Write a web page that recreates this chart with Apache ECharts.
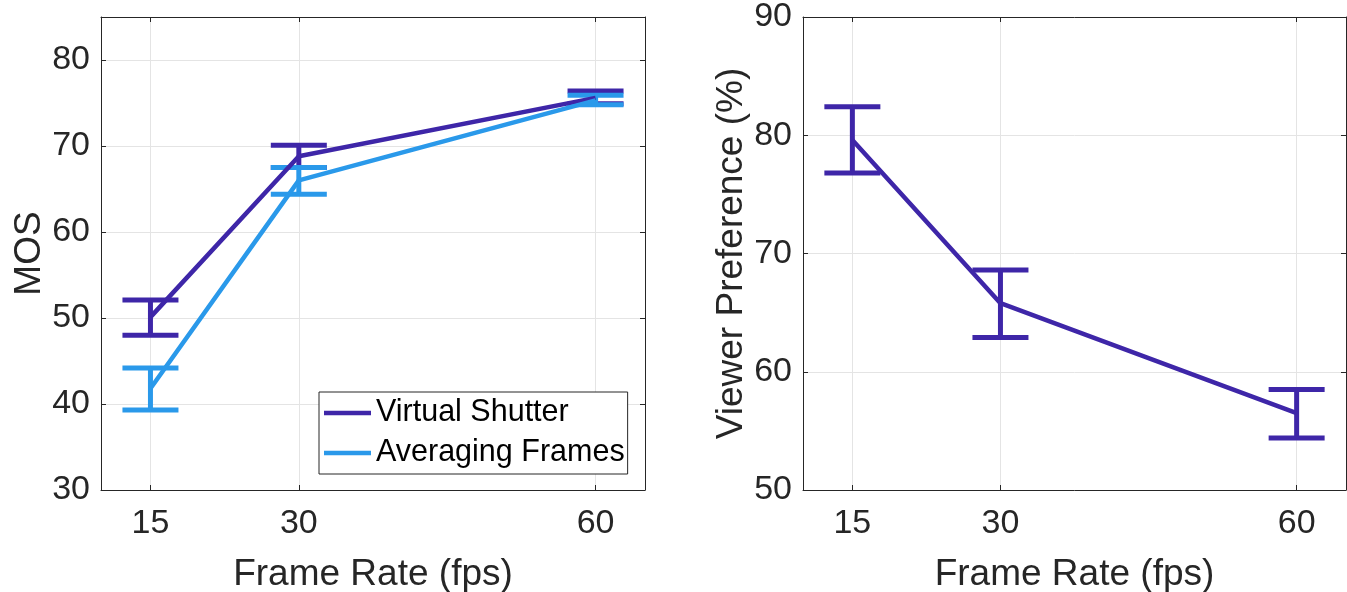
<!DOCTYPE html>
<html>
<head>
<meta charset="utf-8">
<script src="https://cdn.jsdelivr.net/npm/echarts@6/dist/echarts.min.js"></script>
<style>
html,body{margin:0;padding:0;background:#fff;}
#chart{width:1347px;height:592px;}
</style>
</head>
<body>
<div id="chart"></div>
<script>
// ---- data ----
const frameRates = [15, 30, 60];
const xTicks = [15, 30, 60];
const mosTicks = [30, 40, 50, 60, 70, 80];
const prefTicks = [50, 60, 70, 80, 90];

const seriesNames = ['Virtual Shutter', 'Averaging Frames'];
const vsMean = [50.1, 68.8, 75.6];
const vsLow  = [48.0, 67.5, 74.9];
const vsHigh = [52.1, 70.1, 76.4];
const afMean = [41.8, 66.0, 75.3];
const afLow  = [39.3, 64.4, 74.8];
const afHigh = [44.2, 67.5, 75.9];

const prefMean = [79.6, 65.8, 56.5];
const prefLow  = [76.8, 62.9, 54.4];
const prefHigh = [82.4, 68.6, 58.5];

// ---- style ----
const FONT = "'Liberation Sans', Arial, Helvetica, sans-serif";
const AXIS_COLOR = '#262626';
const GRID_COLOR = '#e4e4e4';
const C_VS = '#3e26a8';
const C_AF = '#2a99ea';

function pairs(xs, ys) { return xs.map((x, i) => [x, ys[i]]); }
function errData(xs, lo, hi) { return xs.map((x, i) => [x, lo[i], hi[i]]); }

function errorSeries(name, color, xi, yi, data) {
  return {
    type: 'custom', name: name, xAxisIndex: xi, yAxisIndex: yi,
    data: data, z: 3,
    itemStyle: { color: color },
    renderItem: function (params, api) {
      const x = api.value(0);
      const lo = api.coord([x, api.value(1)]);
      const hi = api.coord([x, api.value(2)]);
      const hw = 28;
      const st = { stroke: color, lineWidth: 5 };
      return {
        type: 'group',
        children: [
          { type: 'line', shape: { x1: lo[0], y1: lo[1], x2: hi[0], y2: hi[1] }, style: st },
          { type: 'line', shape: { x1: hi[0] - hw, y1: hi[1], x2: hi[0] + hw, y2: hi[1] }, style: st },
          { type: 'line', shape: { x1: lo[0] - hw, y1: lo[1], x2: lo[0] + hw, y2: lo[1] }, style: st }
        ]
      };
    },
    silent: true
  };
}
function lineSeries(name, color, xi, yi, data) {
  return {
    type: 'line', name: name, xAxisIndex: xi, yAxisIndex: yi, data: data,
    symbol: 'none', z: 4,
    lineStyle: { color: color, width: 4.5 }, itemStyle: { color: color },
    animation: false
  };
}

function xAxisBottom(gi) {
  return {
    type: 'value', gridIndex: gi, min: 10, max: 65, position: 'bottom',
    name: 'Frame Rate (fps)', nameLocation: 'middle', nameGap: 66,
    nameTextStyle: { fontFamily: FONT, fontSize: 37, color: AXIS_COLOR },
    axisLine: { show: true, onZero: false, lineStyle: { color: AXIS_COLOR, width: 1 } },
    axisTick: { show: true, inside: true, length: 5, customValues: xTicks, lineStyle: { color: AXIS_COLOR } },
    axisLabel: { show: true, customValues: xTicks, margin: 17, fontFamily: FONT, fontSize: 34, color: AXIS_COLOR },
    splitLine: { show: true, lineStyle: { color: GRID_COLOR, width: 1 } }
  };
}
function xAxisTop(gi) {
  return {
    type: 'value', gridIndex: gi, min: 10, max: 65, position: 'top',
    axisLine: { show: true, onZero: false, lineStyle: { color: AXIS_COLOR, width: 1 } },
    axisTick: { show: true, inside: true, length: 5, customValues: xTicks, lineStyle: { color: AXIS_COLOR } },
    axisLabel: { show: false },
    splitLine: { show: false }
  };
}
function yAxisLeft(gi, min, max, ticks, name, gap) {
  return {
    type: 'value', gridIndex: gi, min: min, max: max, interval: 10, position: 'left',
    name: name, nameLocation: 'middle', nameGap: gap,
    nameTextStyle: { fontFamily: FONT, fontSize: 37, color: AXIS_COLOR },
    axisLine: { show: true, onZero: false, lineStyle: { color: AXIS_COLOR, width: 1 } },
    axisTick: { show: true, inside: true, length: 5, customValues: ticks, lineStyle: { color: AXIS_COLOR } },
    axisLabel: { show: true, customValues: ticks, margin: 11, fontFamily: FONT, fontSize: 34, color: AXIS_COLOR },
    splitLine: { show: true, lineStyle: { color: GRID_COLOR, width: 1 } }
  };
}
function yAxisRight(gi, min, max, ticks) {
  return {
    type: 'value', gridIndex: gi, min: min, max: max, interval: 10, position: 'right',
    axisLine: { show: true, onZero: false, lineStyle: { color: AXIS_COLOR, width: 1 } },
    axisTick: { show: true, inside: true, length: 5, customValues: ticks, lineStyle: { color: AXIS_COLOR } },
    axisLabel: { show: false },
    splitLine: { show: false }
  };
}

const chart = echarts.init(document.getElementById('chart'), null, { renderer: 'canvas' });
chart.setOption({
  animation: false,
  backgroundColor: '#ffffff',
  textStyle: { fontFamily: FONT },
  grid: [
    { left: 101, top: 17, width: 544, height: 473, containLabel: false, outerBoundsMode: 'none' },
    { left: 803, top: 17, width: 543, height: 473, containLabel: false, outerBoundsMode: 'none' }
  ],
  xAxis: [xAxisBottom(0), xAxisBottom(1), xAxisTop(0), xAxisTop(1)],
  yAxis: [
    yAxisLeft(0, 30, 85, mosTicks, 'MOS', 50),
    yAxisLeft(1, 50, 90, prefTicks, 'Viewer Preference (%)', 43),
    yAxisRight(0, 30, 85, mosTicks),
    yAxisRight(1, 50, 90, prefTicks)
  ],
  legend: {
    data: seriesNames,
    orient: 'vertical',
    left: 319, top: 392,
    padding: [3, 3, 3, 5],
    itemGap: 4,
    itemWidth: 47, itemHeight: 4.5,
    icon: 'rect',
    backgroundColor: '#ffffff',
    borderColor: AXIS_COLOR, borderWidth: 1,
    textStyle: { fontFamily: FONT, fontSize: 30.5, lineHeight: 36, color: '#000000' },
    selectedMode: false
  },
  series: [
    errorSeries(seriesNames[0], C_VS, 0, 0, errData(frameRates, vsLow, vsHigh)),
    lineSeries(seriesNames[0], C_VS, 0, 0, pairs(frameRates, vsMean)),
    errorSeries(seriesNames[1], C_AF, 0, 0, errData(frameRates, afLow, afHigh)),
    lineSeries(seriesNames[1], C_AF, 0, 0, pairs(frameRates, afMean)),
    errorSeries('pref', C_VS, 1, 1, errData(frameRates, prefLow, prefHigh)),
    lineSeries('pref', C_VS, 1, 1, pairs(frameRates, prefMean))
  ]
});
</script>
</body>
</html>
